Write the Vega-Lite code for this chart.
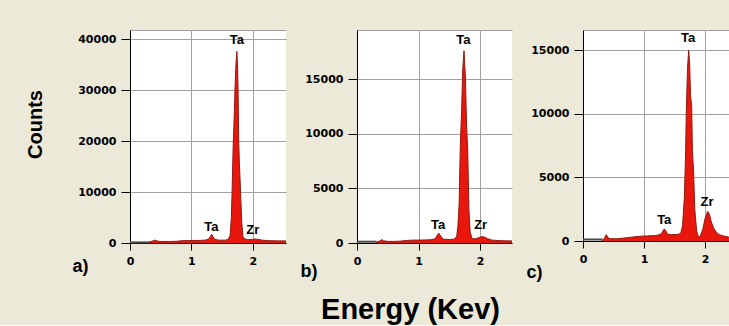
{
  "$schema": "https://vega.github.io/schema/vega-lite/v6.json",
  "background": "#ECE9D8",
  "padding": {"left": 25, "top": 29, "right": 0, "bottom": 0},
  "spacing": 71,
  "bounds": "flush",
  "title": {"text": "Energy (Kev)", "orient": "bottom", "anchor": "middle", "frame": "group", "font": "Liberation Sans", "fontSize": 29, "fontWeight": "bold", "color": "black", "baseline": "alphabetic", "offset": 38, "dx": 280.5},
  "config": {
    "view": {"stroke": null, "fill": "white"},
    "axis": {"domainColor": "black", "domainWidth": 1, "tickColor": "black", "tickSize": 9, "labelFont": "DejaVu Sans", "labelFontWeight": "bold", "labelFontSize": 11, "labelColor": "black", "labelPadding": 5, "labelFlush": false, "gridColor": "#A0A0A0", "gridOpacity": 1, "titleFont": "Liberation Sans", "titleFontWeight": "bold", "titleColor": "black"}
  },
  "datasets": {
    "specA": [
      {"E": 0.30, "c": 0}, {"E": 0.32, "c": 250}, {"E": 0.36, "c": 350}, {"E": 0.40, "c": 560}, {"E": 0.43, "c": 450}, {"E": 0.47, "c": 320}, {"E": 0.55, "c": 300}, {"E": 0.65, "c": 300}, {"E": 0.75, "c": 330}, {"E": 0.85, "c": 450}, {"E": 0.95, "c": 480}, {"E": 1.05, "c": 500}, {"E": 1.15, "c": 520}, {"E": 1.22, "c": 560}, {"E": 1.28, "c": 750}, {"E": 1.31, "c": 1300}, {"E": 1.33, "c": 1700}, {"E": 1.35, "c": 1300}, {"E": 1.38, "c": 700}, {"E": 1.45, "c": 560}, {"E": 1.55, "c": 560}, {"E": 1.60, "c": 700}, {"E": 1.63, "c": 1500}, {"E": 1.65, "c": 5000}, {"E": 1.66, "c": 9000}, {"E": 1.68, "c": 19000}, {"E": 1.70, "c": 26000}, {"E": 1.71, "c": 30500}, {"E": 1.725, "c": 35000}, {"E": 1.74, "c": 37600}, {"E": 1.75, "c": 35000}, {"E": 1.76, "c": 30000}, {"E": 1.77, "c": 20000}, {"E": 1.78, "c": 16000}, {"E": 1.80, "c": 10000}, {"E": 1.82, "c": 4000}, {"E": 1.84, "c": 1200}, {"E": 1.87, "c": 800}, {"E": 1.92, "c": 650}, {"E": 1.98, "c": 700}, {"E": 2.03, "c": 780}, {"E": 2.08, "c": 720}, {"E": 2.15, "c": 560}, {"E": 2.25, "c": 460}, {"E": 2.40, "c": 420}, {"E": 2.54, "c": 400}
    ],
    "specB": [
      {"E": 0.30, "c": 0}, {"E": 0.33, "c": 120}, {"E": 0.38, "c": 200}, {"E": 0.40, "c": 320}, {"E": 0.43, "c": 200}, {"E": 0.50, "c": 150}, {"E": 0.60, "c": 150}, {"E": 0.70, "c": 170}, {"E": 0.80, "c": 230}, {"E": 0.90, "c": 260}, {"E": 1.00, "c": 270}, {"E": 1.10, "c": 280}, {"E": 1.20, "c": 300}, {"E": 1.27, "c": 380}, {"E": 1.31, "c": 750}, {"E": 1.33, "c": 900}, {"E": 1.36, "c": 650}, {"E": 1.40, "c": 350}, {"E": 1.50, "c": 320}, {"E": 1.58, "c": 350}, {"E": 1.62, "c": 600}, {"E": 1.64, "c": 1500}, {"E": 1.66, "c": 3500}, {"E": 1.68, "c": 9000}, {"E": 1.70, "c": 12000}, {"E": 1.72, "c": 16000}, {"E": 1.74, "c": 17600}, {"E": 1.75, "c": 16500}, {"E": 1.76, "c": 15500}, {"E": 1.77, "c": 13500}, {"E": 1.78, "c": 11000}, {"E": 1.80, "c": 8500}, {"E": 1.82, "c": 3000}, {"E": 1.84, "c": 1000}, {"E": 1.87, "c": 400}, {"E": 1.93, "c": 380}, {"E": 1.98, "c": 500}, {"E": 2.03, "c": 580}, {"E": 2.07, "c": 550}, {"E": 2.12, "c": 400}, {"E": 2.20, "c": 260}, {"E": 2.30, "c": 220}, {"E": 2.40, "c": 200}, {"E": 2.52, "c": 190}
    ],
    "specC": [
      {"E": 0.30, "c": 0}, {"E": 0.33, "c": 100}, {"E": 0.36, "c": 300}, {"E": 0.38, "c": 500}, {"E": 0.41, "c": 250}, {"E": 0.45, "c": 180}, {"E": 0.55, "c": 180}, {"E": 0.65, "c": 220}, {"E": 0.75, "c": 280}, {"E": 0.85, "c": 330}, {"E": 0.95, "c": 380}, {"E": 1.05, "c": 400}, {"E": 1.15, "c": 420}, {"E": 1.22, "c": 450}, {"E": 1.28, "c": 550}, {"E": 1.31, "c": 800}, {"E": 1.33, "c": 950}, {"E": 1.35, "c": 850}, {"E": 1.38, "c": 550}, {"E": 1.45, "c": 500}, {"E": 1.55, "c": 520}, {"E": 1.60, "c": 600}, {"E": 1.63, "c": 1200}, {"E": 1.66, "c": 3500}, {"E": 1.68, "c": 7000}, {"E": 1.69, "c": 10000}, {"E": 1.71, "c": 13500}, {"E": 1.73, "c": 15000}, {"E": 1.745, "c": 14000}, {"E": 1.76, "c": 11500}, {"E": 1.78, "c": 10500}, {"E": 1.79, "c": 7200}, {"E": 1.81, "c": 5500}, {"E": 1.83, "c": 2500}, {"E": 1.86, "c": 800}, {"E": 1.89, "c": 300}, {"E": 1.92, "c": 400}, {"E": 1.96, "c": 900}, {"E": 2.00, "c": 1800}, {"E": 2.04, "c": 2330}, {"E": 2.07, "c": 2100}, {"E": 2.10, "c": 1500}, {"E": 2.14, "c": 1000}, {"E": 2.18, "c": 700}, {"E": 2.23, "c": 500}, {"E": 2.30, "c": 400}, {"E": 2.39, "c": 300}
    ],
    "labA": [{"E": 1.74, "c": 39000, "t": "Ta"}, {"E": 1.325, "c": 2400, "t": "Ta"}, {"E": 2.0, "c": 1800, "t": "Zr"}],
    "labB": [{"E": 1.73, "c": 18200, "t": "Ta"}, {"E": 1.32, "c": 1280, "t": "Ta"}, {"E": 2.01, "c": 1280, "t": "Zr"}],
    "labC": [{"E": 1.72, "c": 15600, "t": "Ta"}, {"E": 1.33, "c": 1310, "t": "Ta"}, {"E": 2.03, "c": 2725, "t": "Zr"}],
    "base": [{"E": 0, "c": 120}, {"E": 0.32, "c": 120}]
  },
  "hconcat": [
    {
      "width": 156, "height": 213,
      "encoding": {
        "x": {"field": "E", "type": "quantitative", "title": "a)", "scale": {"domain": [0, 2.54], "nice": false, "zero": false},
              "axis": {"values": [0, 1, 2], "format": "d", "title": "a)", "titleX": -58, "titleY": 28, "titleAlign": "left", "titleBaseline": "alphabetic", "titleFontSize": 18, "tickSize": 7, "labelPadding": 5}},
        "y": {"field": "c", "type": "quantitative", "title": "Counts", "scale": {"domain": [0, 41800], "nice": false},
              "axis": {"values": [0, 10000, 20000, 30000, 40000, 41800], "format": "d", "labelExpr": "datum.value > 40000 ? '' : datum.label", "tickColor": {"condition": {"test": "datum.value > 40000", "value": "transparent"}, "value": "black"}, "title": "Counts", "titleX": -94.5, "titleY": 94, "titleAngle": 270, "titleAlign": "center", "titleBaseline": "middle", "titleFontSize": 20}}
      },
      "layer": [
        {"data": {"name": "specA"}, "mark": {"type": "area", "color": "#E8160C", "clip": true}},
        {"data": {"name": "specA"}, "mark": {"type": "line", "color": "#8E1B10", "strokeWidth": 1, "clip": true}},
        {"data": {"name": "base"}, "mark": {"type": "line", "color": "#4A4A4A", "strokeWidth": 2}},
        {"data": {"name": "labA"}, "mark": {"type": "text", "font": "Liberation Sans", "fontWeight": "bold", "fontSize": 13, "baseline": "alphabetic", "align": "center", "color": "black"}, "encoding": {"text": {"field": "t"}}}
      ]
    },
    {
      "width": 155, "height": 213,
      "encoding": {
        "x": {"field": "E", "type": "quantitative", "title": "b)", "scale": {"domain": [0, 2.52], "nice": false, "zero": false},
              "axis": {"values": [0, 1, 2], "format": "d", "title": "b)", "titleX": -57, "titleY": 33, "titleAlign": "left", "titleBaseline": "alphabetic", "titleFontSize": 18, "tickSize": 7, "labelPadding": 5}},
        "y": {"field": "c", "type": "quantitative", "title": null, "scale": {"domain": [0, 19500], "nice": false},
              "axis": {"values": [0, 5000, 10000, 15000, 19500], "format": "d", "labelExpr": "datum.value > 15000 ? '' : datum.label", "tickColor": {"condition": {"test": "datum.value > 15000", "value": "transparent"}, "value": "black"}, "title": null}}
      },
      "layer": [
        {"data": {"name": "specB"}, "mark": {"type": "area", "color": "#E8160C", "clip": true}},
        {"data": {"name": "specB"}, "mark": {"type": "line", "color": "#8E1B10", "strokeWidth": 1, "clip": true}},
        {"data": {"name": "base"}, "mark": {"type": "line", "color": "#4A4A4A", "strokeWidth": 2}},
        {"data": {"name": "labB"}, "mark": {"type": "text", "font": "Liberation Sans", "fontWeight": "bold", "fontSize": 13, "baseline": "alphabetic", "align": "center", "color": "black"}, "encoding": {"text": {"field": "t"}}}
      ]
    },
    {
      "width": 146, "height": 211,
      "encoding": {
        "x": {"field": "E", "type": "quantitative", "title": "c)", "scale": {"domain": [0, 2.39], "nice": false, "zero": false},
              "axis": {"values": [0, 1, 2], "format": "d", "title": "c)", "titleX": -57, "titleY": 36, "titleAlign": "left", "titleBaseline": "alphabetic", "titleFontSize": 18, "tickSize": 7, "labelPadding": 5}},
        "y": {"field": "c", "type": "quantitative", "title": null, "scale": {"domain": [0, 16580], "nice": false},
              "axis": {"values": [0, 5000, 10000, 15000, 16580], "format": "d", "labelExpr": "datum.value > 15000 ? '' : datum.label", "tickColor": {"condition": {"test": "datum.value > 15000", "value": "transparent"}, "value": "black"}, "title": null}}
      },
      "layer": [
        {"data": {"name": "specC"}, "mark": {"type": "area", "color": "#E8160C", "clip": true}},
        {"data": {"name": "specC"}, "mark": {"type": "line", "color": "#8E1B10", "strokeWidth": 1, "clip": true}},
        {"data": {"name": "base"}, "mark": {"type": "line", "color": "#4A4A4A", "strokeWidth": 2}},
        {"data": {"name": "labC"}, "mark": {"type": "text", "font": "Liberation Sans", "fontWeight": "bold", "fontSize": 13, "baseline": "alphabetic", "align": "center", "color": "black"}, "encoding": {"text": {"field": "t"}}}
      ]
    }
  ]
}
